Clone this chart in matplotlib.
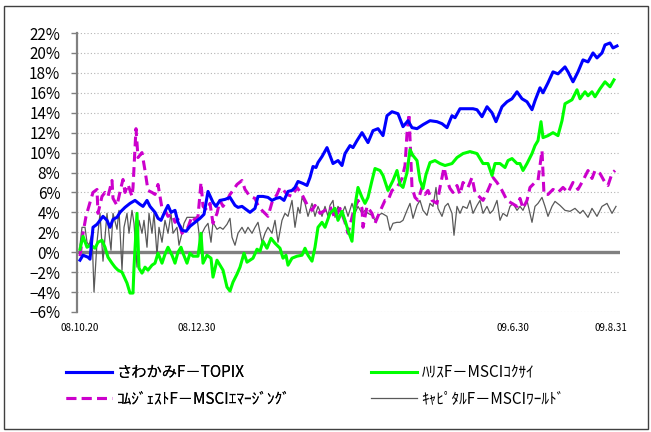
import matplotlib.pyplot as plt
from matplotlib.patches import Rectangle

plt.rcParams['font.family'] = ['Noto Sans CJK JP', 'DejaVu Sans']

# x is a trading-day count from 08.10.20
tick_days = [0, 46.8, 173.2, 212.4]
tick_labels = ['08.10.20', '08.12.30', '09.6.30', '09.8.31']

sawakami_days = [0, 1.2, 3.2, 4.0, 5.2, 6.8, 8.0, 9.2, 10.8, 12.0, 13.2, 14.8, 16.0, 18.0, 20.0,
                 22.0, 24.0, 25.2, 26.8, 28.0, 30.0, 31.2, 32.4, 34.0, 35.2, 36.4, 38.0, 39.2,
                 40.8, 42.4, 44.0, 46.0, 48.0, 49.6, 51.2, 53.2, 54.4, 56.0, 58.0, 60.0, 62.0,
                 63.2, 64.8, 66.4, 68.0, 70.0, 71.2, 73.2, 75.2, 76.8, 78.4, 80.0, 81.6, 83.2,
                 84.8, 86.0, 87.2, 89.2, 90.8, 92.0, 93.2, 94.4, 95.2, 96.8, 98.8, 101.2, 103.2,
                 104.8, 106.0, 108.0, 109.2, 110.8, 112.8, 115.2, 117.2, 119.2, 121.2, 122.8,
                 124.8, 127.2, 129.2, 131.2, 132.8, 134.8, 137.2, 140.0, 142.8, 144.8, 146.8,
                 148.8, 150.0, 152.0, 154.8, 157.2, 158.8, 160.8, 162.8, 164.8, 166.4, 168.8,
                 170.8, 172.8, 174.8, 176.8, 178.8, 180.8, 182.0, 184.0, 185.2, 187.2, 189.2,
                 191.2, 194.0, 195.2, 197.2, 199.2, 201.2, 203.2, 205.2, 206.8, 208.8, 210.0,
                 212.0, 213.2, 214.8]
sawakami = [-0.8, -0.3, -0.5, -0.7, 2.5, 2.8, 3.2, 3.6, 3.2, 2.5, 3.3, 3.5, 4.0, 4.5, 4.9,
            5.2, 4.8, 4.6, 5.2, 4.6, 4.0, 3.4, 3.2, 4.1, 4.7, 4.0, 4.2, 3.0,
            2.2, 2.1, 2.6, 3.0, 3.4, 3.8, 6.1, 5.0, 4.6, 5.2, 5.3, 5.5, 4.7,
            4.5, 4.6, 4.3, 4.0, 4.4, 5.6, 5.6, 5.5, 5.2, 5.4, 5.5, 5.2, 6.1,
            6.2, 6.5, 7.1, 6.9, 6.7, 7.5, 8.6, 8.5, 9.0, 9.6, 10.5, 8.9, 9.2,
            8.7, 9.9, 10.7, 10.5, 11.2, 12.0, 11.0, 12.2, 12.4, 11.7, 13.7,
            14.1, 13.9, 12.6, 13.2, 12.5, 12.4, 12.8, 13.2, 13.1, 12.9, 12.5,
            13.7, 13.5, 14.4, 14.4, 14.4, 14.3, 13.6, 14.6, 14.0, 13.1, 14.6,
            15.1, 15.4, 16.1, 15.4, 15.1, 14.3, 15.2, 16.5, 16.0, 17.0, 18.1,
            17.9, 18.6, 18.1, 17.1, 18.1, 19.3, 19.1, 20.0, 19.5, 20.0, 20.8,
            21.0, 20.5, 20.7]

harris_days = [0, 1.2, 2.8, 4.4, 6.0, 7.2, 8.8, 10.0, 11.2, 12.8, 14.0, 15.2, 16.8, 18.8, 20.0,
               21.2, 21.6, 22.8, 23.6, 24.8, 26.0, 27.2, 28.8, 30.0, 31.2, 32.8, 34.0, 35.2,
               36.8, 38.0, 39.2, 40.4, 41.2, 42.8, 44.0, 45.2, 47.2, 48.4, 49.2, 50.8, 52.4,
               53.2, 54.8, 56.0, 57.2, 58.8, 60.0, 61.2, 62.8, 64.0, 65.6, 66.8, 68.0, 69.2,
               70.8, 72.0, 73.2, 74.8, 76.4, 78.0, 80.0, 81.2, 82.4, 83.2, 84.8, 86.8, 88.8,
               90.0, 91.2, 92.8, 94.0, 95.2, 96.8, 98.0, 100.0, 102.0, 103.2, 104.8, 106.0,
               107.2, 108.8, 110.0, 111.2, 112.8, 114.0, 115.2, 116.8, 118.0, 120.0, 121.2,
               123.2, 125.2, 126.8, 128.0, 129.2, 130.8, 132.0, 133.2, 134.8, 136.0, 137.2,
               138.4, 140.0, 142.0, 144.0, 146.0, 148.8, 150.8, 153.2, 156.0, 158.8, 161.2,
               163.2, 164.8, 166.0, 168.0, 170.0, 171.2, 172.8, 174.8, 176.0, 177.2, 178.8,
               180.8, 182.0, 183.2, 184.4, 185.2, 187.2, 189.2, 191.2, 192.8, 194.0, 196.8,
               198.8, 200.0, 202.0, 203.2, 204.8, 206.0, 208.0, 210.0, 212.0, 213.6]
harris = [0.3, 1.6, 0.5, 0.7, 0.4, 1.0, 1.2, 0.5, -0.5, -1.1, -1.5, -1.8, -2.0, -3.1, -4.1,
          -4.1, -1.5, 3.9, -1.6, -2.1, -1.5, -1.8, -1.3, -1.1, -0.1, -1.1, -0.2, 0.5,
          -0.3, -1.1, 0.0, 0.5, -0.1, -1.1, -0.1, -0.4, -0.4, 1.9, -1.1, -0.3, -0.6,
          -2.5, -0.8, -1.3, -1.8, -3.5, -3.9, -3.0, -2.2, -1.5, -0.1, -1.0, -0.8, -0.6,
          0.3, 0.1, 1.1, 0.4, 1.4, 0.9, 0.4, -0.6, -0.3, -1.3, -0.6, -0.4, -0.3,
          0.4, -0.3, -0.9, 0.5, 2.5, 3.0, 2.5, 3.9, 4.4, 3.2, 4.1, 3.2,
          2.2, 1.1, 4.7, 6.5, 5.5, 4.9, 5.5, 7.2, 8.4, 8.2, 7.7,
          6.2, 7.2, 8.2, 6.8, 6.5, 8.0, 10.3, 9.7, 9.2, 7.2, 6.4,
          7.8, 9.0, 9.2, 8.9, 8.7, 8.9, 9.5, 9.9, 10.1, 9.9, 8.9,
          8.9, 7.7, 8.9, 8.9, 8.5, 9.2, 9.4, 8.9, 8.9, 8.2, 8.9,
          9.9, 10.7, 11.2, 13.1, 11.5, 11.7, 12.0, 11.7, 13.2, 14.9, 15.3,
          16.3, 15.4, 16.1, 15.7, 16.1, 15.6, 16.4, 17.1, 16.6, 17.3]

comgest_days = [0, 1.2, 2.4, 4.0, 5.2, 6.8, 7.2, 8.8, 10.0, 11.2, 12.8, 13.2, 14.8, 16.4, 17.2,
                18.0, 19.2, 20.8, 21.2, 22.4, 23.2, 24.8, 26.0, 27.2, 28.8, 30.0, 31.2, 32.8,
                34.0, 35.2, 36.8, 38.0, 39.2, 40.8, 42.0, 43.2, 44.8, 46.0, 47.2, 48.4, 49.2,
                50.8, 52.0, 53.2, 54.8, 56.0, 57.2, 58.8, 60.0, 61.2, 62.8, 64.8, 66.0, 68.0,
                70.0, 71.2, 72.8, 74.0, 75.2, 76.8, 78.8, 80.0, 81.2, 82.8, 84.8, 86.8, 88.8,
                90.0, 91.2, 92.8, 94.0, 96.0, 98.0, 100.0, 102.0, 104.0, 106.0, 107.2, 109.2,
                111.2, 112.8, 113.2, 114.8, 116.8, 118.0, 120.0, 122.0, 123.2, 124.8, 126.8,
                128.8, 130.0, 130.8, 131.6, 132.8, 134.0, 135.2, 136.8, 138.0, 139.2, 140.8,
                142.8, 144.0, 145.6, 146.8, 148.0, 149.2, 150.8, 152.0, 153.2, 155.2, 156.8,
                158.0, 160.0, 161.2, 162.8, 164.0, 165.2, 166.8, 168.8, 170.8, 172.8, 174.8,
                176.0, 177.2, 178.8, 180.0, 182.0, 183.2, 184.8, 185.6, 187.2, 189.2, 191.2,
                193.2, 195.2, 197.2, 199.2, 201.2, 203.2, 204.8, 206.0, 208.0, 210.0, 211.2,
                212.8, 214.0]
comgest = [-0.4, 1.9, 3.6, 5.0, 6.0, 6.3, 3.9, 5.6, 6.0, 5.6, 7.2, 5.4, 4.7, 6.5, 7.3,
           6.0, 6.8, 5.6, 6.5, 12.4, 9.5, 10.0, 8.2, 6.2, 6.0, 5.8, 6.8, 4.4,
           4.2, 3.6, 3.8, 3.0, 3.3, 1.9, 2.2, 2.5, 3.6, 3.2, 3.6, 7.0, 4.6,
           4.2, 4.9, 2.9, 3.9, 5.2, 4.6, 5.2, 5.8, 6.2, 6.8, 7.2, 6.3, 5.6,
           5.4, 4.7, 4.2, 3.9, 3.6, 5.0, 5.8, 6.5, 6.3, 5.8, 5.6, 6.5, 5.8,
           5.2, 4.6, 4.2, 4.7, 3.9, 4.2, 4.6, 3.4, 4.4, 3.0, 1.9, 3.9,
           5.2, 4.4, 2.5, 4.6, 3.9, 2.9, 4.1, 5.2, 5.2, 6.2, 6.5,
           7.4, 8.7, 11.9, 13.9, 6.5, 5.5, 5.2, 6.5, 5.8, 6.2, 5.2,
           4.9, 6.5, 8.5, 7.2, 6.4, 6.0, 6.7, 5.8, 7.0, 6.5, 7.5,
           6.0, 5.5, 5.2, 6.0, 6.7, 7.5, 7.0, 6.2, 5.2, 4.9, 4.6,
           5.4, 4.4, 5.2, 6.5, 7.0, 7.2, 10.2, 5.8, 5.8, 6.3, 6.0,
           6.5, 6.0, 7.0, 6.3, 7.2, 8.2, 7.4, 8.2, 7.9, 7.0, 6.7,
           7.9, 8.2]

capital_days = [0, 0.8, 2.0, 2.8, 3.6, 4.8, 5.6, 6.8, 8.0, 9.2, 10.8, 11.6, 12.4, 13.2, 14.8,
                15.6, 16.8, 17.6, 18.8, 19.6, 20.8, 21.6, 22.8, 23.6, 24.8, 25.6, 26.8, 27.6,
                28.8, 29.6, 30.8, 31.6, 32.8, 34.0, 35.2, 36.4, 37.2, 38.8, 39.6, 40.8, 41.6,
                42.8, 46.8, 47.6, 48.0, 48.8, 50.0, 51.2, 52.4, 53.2, 54.8, 56.0, 57.2, 58.8,
                60.0, 60.8, 62.0, 63.2, 64.8, 66.0, 67.2, 68.8, 70.0, 71.2, 72.8, 74.0, 75.2,
                76.8, 78.0, 79.2, 80.8, 82.0, 83.2, 84.8, 86.0, 87.2, 88.0, 88.8, 90.0, 91.2,
                92.8, 94.0, 95.2, 96.8, 98.0, 99.2, 100.0, 101.2, 102.0, 103.2, 104.8, 106.0,
                107.2, 108.8, 110.0, 111.2, 112.8, 114.0, 115.2, 116.8, 118.0, 119.2, 120.8,
                122.8, 124.0, 125.2, 126.8, 128.0, 129.2, 130.8, 132.0, 133.2, 134.8, 136.0,
                137.2, 138.8, 140.0, 141.2, 142.4, 143.2, 144.8, 146.0, 147.2, 148.8, 149.6,
                150.8, 152.0, 153.2, 154.8, 156.0, 157.2, 158.8, 160.0, 161.2, 162.8, 164.0,
                165.2, 166.8, 168.0, 169.2, 170.8, 172.0, 173.2, 174.8, 176.0, 177.2, 178.8,
                180.0, 180.8, 182.0, 183.2, 184.8, 186.0, 187.2, 188.8, 190.0, 192.0, 194.0,
                196.0, 198.0, 200.0, 201.2, 203.2, 204.8, 206.8, 208.8, 210.8, 212.8, 214.4]
capital = [0.7, 2.5, 2.5, 1.0, 0.7, 1.9, -4.0, 1.0, 3.9, -0.9, 3.9, 1.9, 0.2, 3.9, 2.3,
           4.2, -1.8, 2.5, 3.9, 1.9, 4.2, 2.9, -1.5, 3.2, 1.9, 3.2, 0.5, 3.9,
           1.9, 3.9, -0.3, 2.5, 1.0, 3.2, 1.9, 3.9, 1.9, 2.5, 0.7, 1.9, 2.9,
           3.5, 3.5, 1.9, 0.0, 1.9, 2.5, 2.9, 1.0, 3.0, 2.3, 2.5, 2.3, 2.8,
           3.4, 1.5, 0.7, 1.9, 2.5, 1.9, 2.5, 1.9, 2.5, 3.0, 1.0, 1.9, 2.5,
           1.9, 3.2, 1.0, 3.2, 3.9, 3.6, 5.2, 2.5, 4.5, 3.9, 5.5, 4.9, 3.6,
           4.9, 3.6, 4.6, 3.6, 4.6, 3.6, 4.7, 5.2, 3.5, 4.6, 3.9, 4.6,
           3.6, 4.9, 3.9, 4.6, 3.9, 4.2, 3.9, 3.7, 3.2, 3.7, 3.9,
           3.6, 2.2, 2.9, 3.0, 3.0, 3.2, 4.2, 4.9, 3.4, 4.7, 5.2,
           4.2, 3.7, 4.9, 4.6, 6.5, 4.4, 3.6, 4.6, 4.9, 3.9, 1.7,
           4.6, 3.9, 4.6, 4.4, 5.2, 3.9, 4.7, 5.2, 3.9, 4.6, 3.9,
           4.2, 5.2, 3.2, 3.9, 3.6, 4.6, 4.9, 4.2, 4.6, 4.2, 5.2,
           3.9, 3.0, 4.6, 4.9, 5.5, 4.6, 3.6, 4.6, 5.1, 4.7, 4.2,
           4.1, 4.4, 3.9, 4.2, 3.5, 4.4, 3.6, 4.6, 4.9, 3.9, 4.6]

labels = ['さわかみF－TOPIX', 'ｺﾑｼﾞｪｽﾄF－MSCIｴﾏｰｼﾞﾝｸﾞ', 'ﾊﾘｽF－MSCIｺｸｻｲ', 'ｷｬﾋﾟﾀﾙF－MSCIﾜｰﾙﾄﾞ']

fig = plt.figure(figsize=(6.51, 4.32), dpi=100)
ax = fig.add_axes([77 / 651, 1 - 312 / 432, 543 / 651, 279 / 432])

yticks = list(range(-6, 23, 2))
for v in yticks:
    if v != 0:
        ax.axhline(v, color='#b4b4b4', lw=0.8, ls=(0, (1, 2)), zorder=1)
ax.axhline(0, color='#808080', lw=2.4, zorder=2)

l_cap, = ax.plot(capital_days, capital, color='#595959', lw=0.9, zorder=3)
l_com, = ax.plot(comgest_days, comgest, color='#cc00cc', lw=2.2, ls=(0, (3.2, 1.8)), zorder=4)
l_har, = ax.plot(harris_days, harris, color='#00ff00', lw=2.2, zorder=5)
l_saw, = ax.plot(sawakami_days, sawakami, color='#0000ff', lw=2.2, zorder=6)

ax.set_xlim(-1.2, 216)
ax.set_ylim(-6, 22)
ax.set_yticks(yticks)
ax.set_yticklabels([f'{v}%'.replace('-', '−') for v in yticks], fontsize=11)
ax.set_xticks(tick_days)
ax.set_xticklabels(tick_labels, fontsize=7)
ax.tick_params(axis='x', length=0, pad=8)
ax.tick_params(axis='y', length=4, width=1, color='#808080', pad=8)
for s in ['top', 'right', 'bottom']:
    ax.spines[s].set_visible(False)
ax.spines['left'].set_color('#808080')
ax.spines['left'].set_linewidth(1.6)

# two legend columns, placed separately like the original
leg_kw = dict(loc='upper left', frameon=False, fontsize=11, handlelength=3.0,
              handletextpad=0.3, labelspacing=0.62, borderpad=0, borderaxespad=0)
leg1 = fig.legend([l_saw, l_com], labels[:2], bbox_to_anchor=(66 / 651, 1 - 364 / 432), **leg_kw)
fig.add_artist(leg1)
fig.legend([l_har, l_cap], labels[2:], bbox_to_anchor=(371 / 651, 1 - 364 / 432), **leg_kw)

fig.patches.append(Rectangle((4 / 651, 3 / 432), 644 / 651, 423 / 432, transform=fig.transFigure,
                             fill=False, edgecolor='#404040', lw=1))

fig.savefig('out.png', dpi=100)
